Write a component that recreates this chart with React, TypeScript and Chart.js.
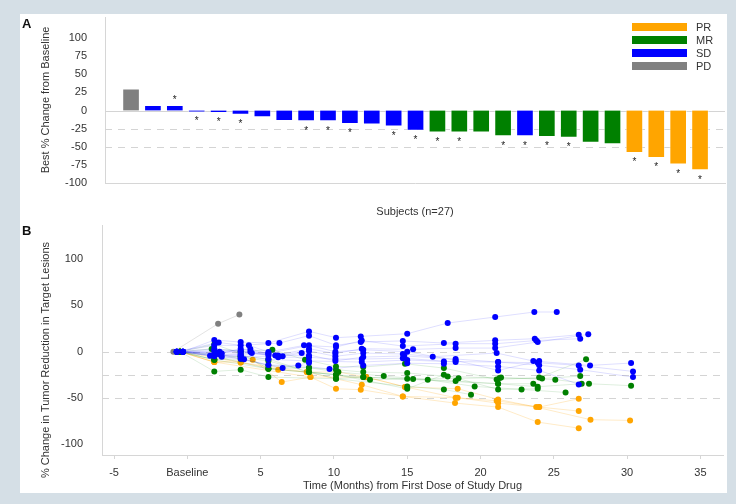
import React, { useEffect, useRef } from 'react';
import { Chart, registerables } from 'chart.js';

Chart.register(...registerables);

const FONT_FAMILY = "'Liberation Sans', Arial, Helvetica, sans-serif";
const TEXT_COLOR = '#333333';
const AXIS_COLOR = '#d6d6d6';
const REF_COLOR = '#d4d4d4';

// ---------------- Panel A: waterfall of best % change ----------------
const subjectIndex = [1, 2, 3, 4, 5, 6, 7, 8, 9, 10, 11, 12, 13, 14, 15, 16, 17, 18, 19, 20, 21, 22, 23, 24, 25, 26, 27];
const bestPctChange = [30, 7, 7, -1.5, -3, -5.5, -9, -14, -14.5, -14.5, -18, -19, -21.5, -27.5, -30, -30, -30, -35, -35, -36, -37, -44, -46, -58, -65, -74, -82];
const bestResponse = ['PD', 'SD', 'SD', 'SD', 'SD', 'SD', 'SD', 'SD', 'SD', 'SD', 'SD', 'SD', 'SD', 'SD', 'MR', 'MR', 'MR', 'MR', 'SD', 'MR', 'MR', 'MR', 'MR', 'PR', 'PR', 'PR', 'PR'];
const hasStar = [0, 0, 1, 1, 1, 1, 0, 0, 1, 1, 1, 0, 1, 1, 1, 1, 0, 1, 1, 1, 1, 0, 0, 1, 1, 1, 1];
const responseCategories = ['PR', 'MR', 'SD', 'PD'];
const responseColors = ['#FFA500', '#008000', '#0000FF', '#808080'];
const yTicksA = [-100, -75, -50, -25, 0, 25, 50, 75, 100];
const dashedLinesA = [-25, -50];
const solidLinesA = [0];

// ---------------- Panel B: spider plot over time ----------------
const xTickValuesB = [-5, 0, 5, 10, 15, 20, 25, 30, 35];
const xTickLabelsB = ['-5', 'Baseline', '5', '10', '15', '20', '25', '30', '35'];
const yTickValuesB = [-100, -50, 0, 50, 100];
const dashedLinesB = [0, -25, -50];

const sdTimes = [
  [-0.3, 1.84, 3.64, 5.53, 8.3, 10.14, 11.83, 15.0, 17.76, 21.0, 23.67, 25.2],
  [-0.72, 2.14, 3.64, 6.28, 8.3, 10.14, 11.83, 14.7, 17.5, 21.0, 23.7, 26.7],
  [-0.72, 1.84, 4.2, 5.53, 7.96, 10.14, 11.9, 14.7, 18.3, 21.0, 23.8, 26.8],
  [-0.3, 2.2, 4.3, 6.0, 8.3, 10.1, 11.9, 15.4, 18.3, 21.0, 23.9, 27.35],
  [-0.72, 2.35, 3.64, 6.2, 8.3, 10.1, 12.0, 14.7, 16.74, 21.1, 23.6, 27.47, 30.27],
  [-0.3, 1.84, 3.64, 6.5, 7.8, 10.1, 12.0, 14.8, 18.3, 21.2, 23.9, 26.7, 30.4],
  [-0.72, 1.55, 3.64, 5.53, 8.3, 11.9, 15.0, 17.5, 21.2, 24.0, 26.8, 30.4],
  [-0.3, 2.35, 3.87, 5.53, 7.57, 9.7, 12.0, 15.0, 17.5, 21.2, 24.0, 26.7],
  [-0.72, 1.84, 3.64, 6.5, 8.3],
  [-0.3, 2.2, 4.4, 5.53, 8.3],
  [-0.72, 1.84, 3.64, 5.53, 8.3, 10.1, 12.0, 15.0, 18.3, 21.2, 24.0],
  [-0.3, 2.2, 4.3, 6.2, 8.3, 10.1, 11.9, 14.7, 18.3],
  [-0.72, 1.84, 3.64, 5.53],
  [-0.3, 1.84, 3.64, 6.2],
];
const sdValues = [
  [0, 12.5, 10.4, 9.3, 21.9, 15.1, 16.5, 19.4, 30.9, 37.4, 42.8, 42.8],
  [0, 10, 6.8, 9.3, 17.3, 6.8, 10.5, 11.6, 9.3, 12.2, 14, 18.3],
  [0, 6.8, 6.8, -0.4, 6.8, 5, 12, 6, 8.6, 8.6, 12, 14],
  [0, 0, 3, -4, 3.2, -2, 3.2, 2.5, 3.9, 3.9, 10.4, 18.7],
  [0, -2, 3.2, -4, 0.8, -5, -1.5, -2.5, -5.4, -1.5, -10.1, -14.8, -12.3],
  [0, 1.4, -0.4, -5, -1.5, -10, -5.8, -4.6, -7.9, -11.2, -12, -14.8, -21.3],
  [0, -4.3, -4, -8.3, -10, -11.2, -9, -10.6, -11.2, -14.6, -19.4, -27.4],
  [0, -5.5, -8.3, -14.5, -14.8, -18.8, -14.8, -12.5, -13, -15.9, -20.2, -35.3],
  [0, -2, -7.6, -17.7, -12],
  [0, -3, -1.5, -4, -4],
  [0, 3, 1, -2, 6.8, 0, 2, 0, -9.4, -20.2, -10],
  [0, -1, 0, -6, -6, -8, -8, -7, -11.1],
  [0, -4, -3, -2],
  [0, -5, -5, -5],
];

const mrTimes = [
  [-0.5, 1.66, 3.64, 5.8, 8.03, 10.14, 12.0, 14.85, 17.5, 21.1, 24.0, 27.2],
  [-0.5, 1.84, 3.64, 5.53, 8.3, 10.14, 12.0, 15.0, 17.76, 21.3, 24.2, 26.8],
  [-0.5, 1.84, 3.64, 5.53, 8.3, 10.14, 12.46, 15.4, 18.5, 21.4, 25.1, 27.4, 30.27],
  [-0.5, 1.84, 3.64, 5.53, 10.14, 12.0, 15.0, 18.3, 21.2, 23.9, 26.9],
  [-0.5, 1.84, 3.64, 5.53, 8.3, 10.3, 13.4, 16.4, 19.6, 22.8, 25.8],
  [-0.5, 1.84, 3.64, 5.53, 8.3, 10.14, 15.0, 17.5, 19.35],
  [-0.5, 1.84, 5.53, 10.14, 15.0, 17.5, 21.2, 23.9],
  [-0.5, 1.84, 5.53, 12.0, 21.2, 23.6],
];
const mrValues = [
  [0, 3, 0.5, 2, -8.7, -15.9, -16.6, -13, -17.7, -30, -28, -8.3],
  [0, 8, -2, -18.4, -17.3, -19.4, -22, -23, -26.7, -28.5, -29, -26.3],
  [0, -8.7, -5, -8, -22, -24.8, -30.2, -29.6, -28.8, -28, -30.2, -34.6, -36.7],
  [0, -21.3, -19.5, -27.4, -29.2, -27.4, -29.2, -31.7, -34.6, -37.8, -34.6],
  [0, -8.7, -8, -15, -17.3, -22, -26.3, -30.2, -37.5, -40.7, -44],
  [0, -3, -6, -10, -22, -29.2, -37.5, -40.7, -46.4],
  [0, -5, -18.4, -24.8, -40, -24.8, -40.7, -40],
  [0, -8.7, -18.4, -27.4, -34.6, -34.6],
];

const prTimes = [
  [-0.5, 1.84, 4.46, 6.44, 8.4, 10.14, 11.83, 14.7, 18.26, 21.2, 23.9, 26.7],
  [-0.5, 3.64, 6.2, 8.15, 10.3, 12.2, 14.85, 18.44, 21.2, 23.8, 27.5, 30.2],
  [-0.5, 1.84, 3.64, 8.15, 11.9, 14.7, 18.44, 21.2, 24.0, 26.7],
  [-0.5, 1.84, 8.4, 12.2, 14.85, 18.3, 21.1, 24.0, 26.7],
];
const prValues = [
  [0, -11.2, -8.7, -32.8, -27.4, -40, -41, -48.3, -55.5, -59.8, -76, -82.5],
  [0, -11.6, -19.5, -22, -22, -27.4, -38, -40, -51.5, -59.8, -73.4, -74.2],
  [0, -11.2, -11.6, -22, -35.7, -48.3, -49.7, -55.5, -59.8, -64.1],
  [0, -11.2, -27.4, -27.4, -38, -49.7, -53, -59.8, -50.8],
];

const pdTimes = [[-0.95, 2.1, 3.55]];
const pdValues = [[0, 30.2, 40]];

function rgba(hex: string, a: number) {
  const n = parseInt(hex.slice(1), 16);
  return `rgba(${(n >> 16) & 255},${(n >> 8) & 255},${n & 255},${a})`;
}
function colorOf(cat: string) {
  return responseColors[responseCategories.indexOf(cat)];
}

// ---------------- plugins ----------------
const refLinesPlugin = {
  id: 'refLines',
  beforeDatasetsDraw(chart: any, _args: any, opts: any) {
    const { ctx, chartArea } = chart;
    const y = chart.scales.y;
    const draw = (vals: number[], dash: number[]) => {
      vals.forEach((v) => {
        const py = Math.round(y.getPixelForValue(v)) + 0.5;
        ctx.save();
        ctx.strokeStyle = opts.color;
        ctx.lineWidth = 1;
        ctx.setLineDash(dash);
        ctx.beginPath();
        ctx.moveTo(chartArea.left, py);
        ctx.lineTo(chartArea.right, py);
        ctx.stroke();
        ctx.restore();
      });
    };
    draw(opts.solid || [], []);
    draw(opts.dashed || [], [7, 6]);
  },
};

const starPlugin = {
  id: 'stars',
  afterDatasetsDraw(chart: any) {
    const { ctx } = chart;
    ctx.save();
    ctx.fillStyle = '#222';
    ctx.font = `10px ${FONT_FAMILY}`;
    ctx.textAlign = 'center';
    ctx.textBaseline = 'middle';
    chart.data.datasets.forEach((ds: any, di: number) => {
      const meta = chart.getDatasetMeta(di);
      meta.data.forEach((el: any, i: number) => {
        const raw = ds.data[i];
        if (!raw || !raw.star) return;
        const yy = raw.y < 0 ? el.y + 10 : el.y - 5;
        ctx.fillText('*', el.x, yy);
      });
    });
    ctx.restore();
  },
};

const boxLegendPlugin = {
  id: 'boxLegend',
  afterDraw(chart: any, _args: any, opts: any) {
    const { ctx } = chart;
    ctx.save();
    ctx.font = `11px ${FONT_FAMILY}`;
    ctx.textBaseline = 'middle';
    ctx.textAlign = 'left';
    chart.data.datasets.forEach((ds: any, i: number) => {
      const top = opts.y + i * opts.rowGap;
      ctx.fillStyle = ds.backgroundColor;
      ctx.fillRect(opts.x, top, opts.boxWidth, opts.boxHeight);
      ctx.fillStyle = TEXT_COLOR;
      ctx.fillText(ds.label, opts.x + opts.boxWidth + 9, top + opts.boxHeight / 2 + 0.5);
    });
    ctx.restore();
  },
};

const panelLabelPlugin = {
  id: 'panelLabel',
  afterDraw(chart: any, _args: any, opts: any) {
    const { ctx } = chart;
    ctx.save();
    ctx.font = `bold 13px ${FONT_FAMILY}`;
    ctx.fillStyle = '#111';
    ctx.textBaseline = 'alphabetic';
    ctx.textAlign = 'left';
    ctx.fillText(opts.text, opts.x, opts.y);
    ctx.restore();
  },
};

const sideTitlePlugin = {
  id: 'sideTitle',
  afterDraw(chart: any, _args: any, opts: any) {
    const { ctx, chartArea } = chart;
    ctx.save();
    ctx.font = `11px ${FONT_FAMILY}`;
    ctx.fillStyle = TEXT_COLOR;
    ctx.textAlign = 'center';
    ctx.textBaseline = 'middle';
    ctx.translate(opts.x, (chartArea.top + chartArea.bottom) / 2 + opts.shift);
    ctx.rotate(-Math.PI / 2);
    ctx.fillText(opts.text, 0, 0);
    ctx.restore();
  },
};

const fitVertical = (width: number) => (s: any) => {
  s.width = width;
  s.paddingTop = 0;
  s.paddingBottom = 0;
};
const fitHorizontal = (height: number) => (s: any) => {
  s.height = height;
  s.paddingLeft = 0;
  s.paddingRight = 0;
};

export default function App() {
  const refA = useRef<HTMLCanvasElement>(null);
  const refB = useRef<HTMLCanvasElement>(null);

  useEffect(() => {
    Chart.defaults.font.family = FONT_FAMILY;
    Chart.defaults.font.size = 11;
    Chart.defaults.color = TEXT_COLOR;

    const datasetsA = responseCategories.map((cat) => ({
      label: cat,
      data: subjectIndex
        .map((x, i) => ({ x, y: bestPctChange[i], star: hasStar[i] === 1, cat: bestResponse[i] }))
        .filter((d) => d.cat === cat),
      backgroundColor: colorOf(cat),
      borderColor: 'rgba(255,255,255,0.45)',
      borderWidth: 1,
      barThickness: 17,
      grouped: false,
    }));

    const chartA = new Chart(refA.current as HTMLCanvasElement, {
      type: 'bar',
      data: { datasets: datasetsA as any },
      plugins: [refLinesPlugin, starPlugin, boxLegendPlugin, panelLabelPlugin],
      options: {
        animation: false,
        responsive: false,
        events: [],
        layout: { padding: { top: 3, right: 2, left: 0, bottom: 0 } },
        plugins: {
          legend: { display: false },
          tooltip: { enabled: false },
          refLines: { color: REF_COLOR, dashed: dashedLinesA, solid: solidLinesA },
          boxLegend: { x: 612, y: 9, boxWidth: 55, boxHeight: 8, rowGap: 13 },
          panelLabel: { text: 'A', x: 2, y: 14 },
        } as any,
        scales: {
          x: {
            type: 'linear',
            offset: false,
            min: -0.19,
            max: 28.14,
            grid: { display: false },
            border: { display: true, color: AXIS_COLOR },
            ticks: { display: false },
            title: { display: true, text: 'Subjects (n=27)', padding: { top: 0, bottom: 1.4 }, color: TEXT_COLOR },
            afterFit: fitHorizontal(37),
          },
          y: {
            type: 'linear',
            min: -100,
            max: 129,
            grid: { display: false },
            border: { display: true, color: AXIS_COLOR },
            ticks: { padding: 10, color: TEXT_COLOR },
            afterBuildTicks: (s: any) => { s.ticks = yTicksA.map((v) => ({ value: v })); },
            title: { display: true, text: 'Best % Change from Baseline', padding: { top: 19.4, bottom: 0 }, color: TEXT_COLOR },
            afterFit: fitVertical(85),
          },
        } as any,
      },
    });

    const groupsB = [
      { cat: 'SD', times: sdTimes, values: sdValues, alpha: 0.13 },
      { cat: 'MR', times: mrTimes, values: mrValues, alpha: 0.13 },
      { cat: 'PR', times: prTimes, values: prValues, alpha: 0.22 },
      { cat: 'PD', times: pdTimes, values: pdValues, alpha: 0.22 },
    ];
    const datasetsB: any[] = [];
    groupsB.forEach((g) => {
      const c = colorOf(g.cat);
      g.times.forEach((ts, k) => {
        datasetsB.push({
          label: `${g.cat} ${k + 1}`,
          data: ts.map((t, j) => ({ x: t, y: g.values[k][j] })),
          showLine: true,
          borderColor: rgba(c, g.alpha),
          borderWidth: 1,
          pointRadius: 3,
          pointHoverRadius: 3,
          pointBorderWidth: 0,
          pointBackgroundColor: c,
          pointBorderColor: c,
        });
      });
    });

    const chartB = new Chart(refB.current as HTMLCanvasElement, {
      type: 'scatter',
      data: { datasets: datasetsB },
      plugins: [refLinesPlugin, panelLabelPlugin, sideTitlePlugin],
      options: {
        animation: false,
        responsive: false,
        events: [],
        layout: { padding: { top: 5, right: 4, left: 0, bottom: 0 } },
        plugins: {
          legend: { display: false },
          tooltip: { enabled: false },
          refLines: { color: REF_COLOR, dashed: dashedLinesB, solid: [] },
          panelLabel: { text: 'B', x: 2, y: 15 },
          sideTitle: { text: '% Change in Tumor Reduction in Target Lesions', x: 26, shift: 20 },
        } as any,
        scales: {
          x: {
            type: 'linear',
            min: -5.82,
            max: 36.54,
            grid: { display: true, drawOnChartArea: false, drawTicks: true, tickLength: 4, color: AXIS_COLOR },
            border: { display: true, color: AXIS_COLOR },
            ticks: {
              padding: 7,
              color: TEXT_COLOR,
              maxRotation: 0,
              autoSkip: false,
              callback: (v: any) => {
                const i = xTickValuesB.indexOf(Number(v));
                return i >= 0 ? xTickLabelsB[i] : '';
              },
            },
            afterBuildTicks: (s: any) => { s.ticks = xTickValuesB.map((v) => ({ value: v })); },
            title: { display: true, text: 'Time (Months) from First Dose of Study Drug', padding: { top: 0, bottom: 0.4 }, color: TEXT_COLOR },
            afterFit: fitHorizontal(38),
          },
          y: {
            type: 'linear',
            min: -111.5,
            max: 136.7,
            grid: { display: false },
            border: { display: true, color: AXIS_COLOR },
            ticks: { padding: 11, color: TEXT_COLOR },
            afterBuildTicks: (s: any) => { s.ticks = yTickValuesB.map((v) => ({ value: v })); },
            title: { display: false },
            afterFit: fitVertical(82),
          },
        } as any,
      },
    });

    return () => {
      chartA.destroy();
      chartB.destroy();
    };
  }, []);

  return (
    <div style={{ position: 'fixed', left: 0, top: 0, width: 736, height: 504, background: '#d5dfe6' }}>
      <div style={{ position: 'absolute', left: 20, top: 14, width: 707, height: 479, background: '#ffffff' }}>
        <canvas ref={refA} width={707} height={206} style={{ position: 'absolute', left: 0, top: 0, width: 707, height: 206 }} />
        <canvas ref={refB} width={707} height={273} style={{ position: 'absolute', left: 0, top: 206, width: 707, height: 273 }} />
      </div>
    </div>
  );
}
